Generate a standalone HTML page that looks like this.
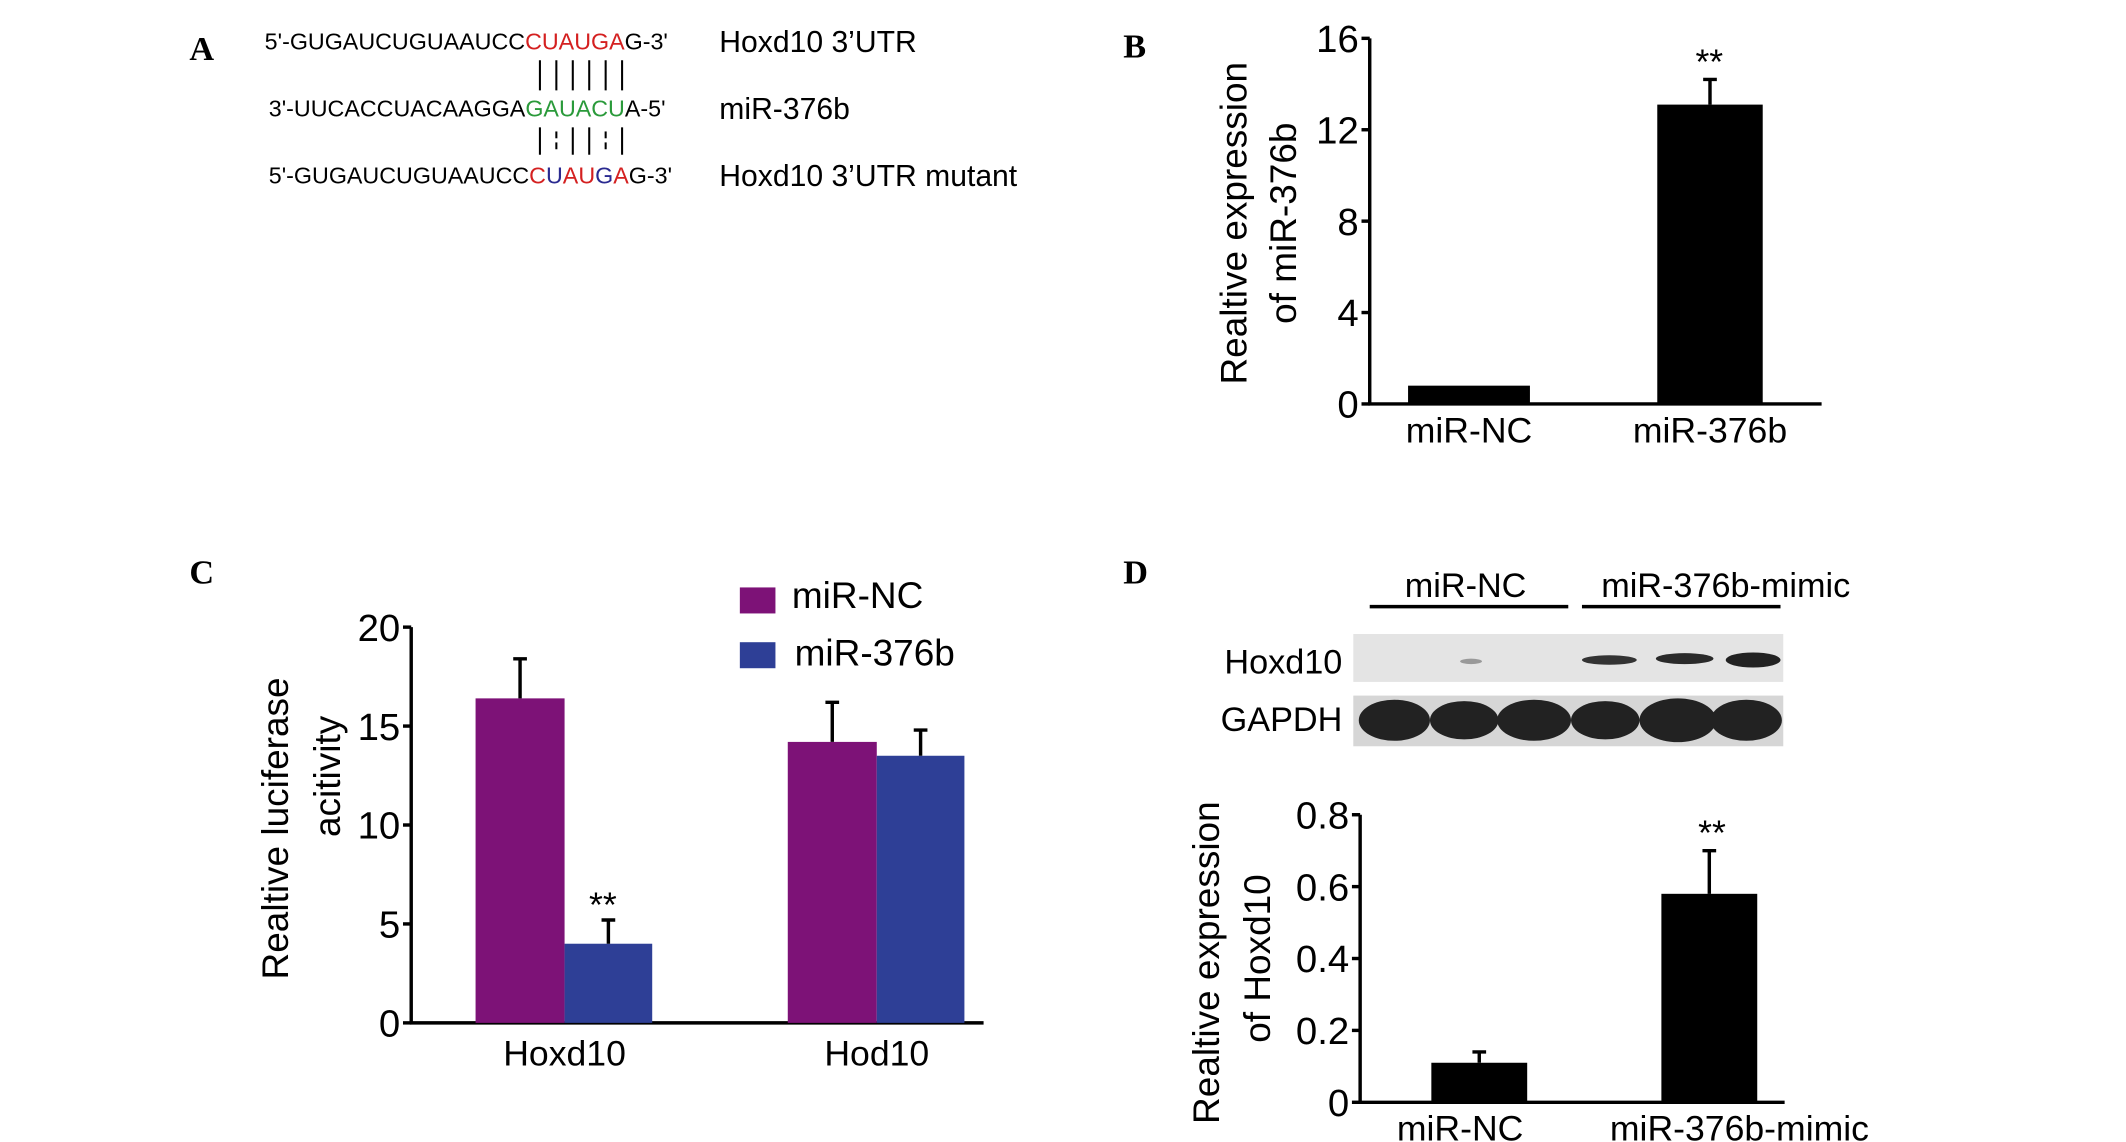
<!DOCTYPE html>
<html><head><meta charset="utf-8"><style>
html,body{margin:0;padding:0;background:#fff;}
svg{display:block;font-family:"Liberation Sans",Arial,sans-serif;}
.pl{font-family:"Liberation Serif",serif;font-weight:bold;font-size:25px;}
</style></head><body>
<svg id="fig" width="2126" height="1142" viewBox="0 0 1552 834" xmlns="http://www.w3.org/2000/svg">
<g>
 <text class="pl" x="138" y="44">A</text>
 <text x="193" y="36" font-size="17">5'-GUGAUCUGUAAUCC<tspan fill="#d42020">CUAUGA</tspan>G-3'</text>
 <text x="196" y="85" font-size="17">3'-UUCACCUACAAGGA<tspan fill="#2a9a3a">GAUACU</tspan>A-5'</text>
 <text x="196" y="134" font-size="17">5'-GUGAUCUGUAAUCC<tspan fill="#d42020">C</tspan><tspan fill="#2a2a90">U</tspan><tspan fill="#d42020">AU</tspan><tspan fill="#2a2a90">G</tspan><tspan fill="#d42020">A</tspan>G-3'</text>
 <g stroke="#000" stroke-width="1.5">
  <line x1="394" y1="44" x2="394" y2="66"/><line x1="406" y1="44" x2="406" y2="66"/><line x1="418" y1="44" x2="418" y2="66"/><line x1="430" y1="44" x2="430" y2="66"/><line x1="442" y1="44" x2="442" y2="66"/><line x1="454" y1="44" x2="454" y2="66"/>
  <line x1="394" y1="93" x2="394" y2="113"/><line x1="406" y1="96" x2="406" y2="101"/><line x1="406" y1="104" x2="406" y2="109"/><line x1="418" y1="93" x2="418" y2="113"/><line x1="430" y1="93" x2="430" y2="113"/><line x1="442" y1="96" x2="442" y2="101"/><line x1="442" y1="104" x2="442" y2="109"/><line x1="454" y1="93" x2="454" y2="113"/>
 </g>
 <text x="525" y="38" font-size="22">Hoxd10 3’UTR</text>
 <text x="525" y="87" font-size="22">miR-376b</text>
 <text x="525" y="136" font-size="22">Hoxd10 3’UTR mutant</text>
</g>
<text class="pl" x="820" y="42">B</text>
<text class="pl" x="138" y="426">C</text>
<text class="pl" x="820" y="426">D</text>
<g id="chartB"></g>
<g id="chartC"></g>
<g id="chartD"></g>
<g>
 <text x="1070" y="436" font-size="25" text-anchor="middle">miR-NC</text>
 <text x="1260" y="436" font-size="25" text-anchor="middle">miR-376b-mimic</text>
 <line x1="1000" y1="443" x2="1145" y2="443" stroke="#000" stroke-width="2.5"/>
 <line x1="1155" y1="443" x2="1300" y2="443" stroke="#000" stroke-width="2.5"/>
 <text x="980" y="492" font-size="25" text-anchor="end">Hoxd10</text>
 <text x="980" y="534" font-size="25" text-anchor="end">GAPDH</text>
 <rect x="988" y="463" width="314" height="35" fill="#e4e4e4"/>
 <ellipse cx="1074" cy="483" rx="8" ry="2" fill="#999"/>
 <ellipse cx="1175" cy="482" rx="20" ry="3.5" fill="#333"/>
 <ellipse cx="1230" cy="481" rx="21" ry="4" fill="#2a2a2a"/>
 <ellipse cx="1280" cy="482" rx="20" ry="5.5" fill="#222"/>
 <rect x="988" y="508" width="314" height="37" fill="#d6d6d6"/>
 <g fill="#222">
  <ellipse cx="1018" cy="526" rx="26" ry="15"/><ellipse cx="1069" cy="526" rx="25" ry="14"/><ellipse cx="1120" cy="526" rx="27" ry="15"/>
  <ellipse cx="1172" cy="526" rx="25" ry="14"/><ellipse cx="1225" cy="526" rx="28" ry="16"/><ellipse cx="1275" cy="526" rx="26" ry="15"/>
 </g>
</g>
</svg>
<script>
const NS="http://www.w3.org/2000/svg";
// Panel B data
const bCategories=["miR-NC","miR-376b"];
const bValues=[0.8,13.1];
const bErrors=[0,1.1];
const bTicks=[0,4,8,12,16];
// Panel C data
const cCategories=["Hoxd10","Hod10"];
const cSeries=["miR-NC","miR-376b"];
const cNC=[16.4,14.2];
const cMir=[4.0,13.5];
const cNCErr=[2.0,2.0];
const cMirErr=[1.2,1.3];
const cTicks=[0,5,10,15,20];
// Panel D data
const dCategories=["miR-NC","miR-376b-mimic"];
const dValues=[0.11,0.58];
const dErrors=[0.03,0.12];
const dTicks=["0","0.2","0.4","0.6","0.8"];

function el(p,t,a){const e=document.createElementNS(NS,t);for(const k in a)e.setAttribute(k,a[k]);p.appendChild(e);return e;}
function axes(g,ax,y0,y1,xEnd,ticks,vmax,fmt){
  const ys=v=>y0-(v/vmax)*(y0-y1);
  const ya=el(g,"line",{x1:ax,y1:y1,x2:ax,y2:y0+1,stroke:"#000","stroke-width":2.5});
  
  
  const xa=el(g,"line",{x1:ax-1,y1:y0,x2:xEnd,y2:y0,stroke:"#000","stroke-width":2.5});
  
  
  ticks.forEach(t=>{const v=parseFloat(t);const y=ys(v);
    el(g,"line",{x1:ax-6,y1:y,x2:ax,y2:y,stroke:"#000","stroke-width":2.5});
    const tx=el(g,"text",{x:ax-8,y:y+10,"font-size":28,"text-anchor":"end"});tx.textContent=fmt?fmt(t):t;
    
    
  });
  return ys;
}
function bar(g,x,w,v,e,ys,fill,name){
  const r=el(g,"rect",{x:x,y:ys(v),width:w,height:ys(0)-ys(v),fill:fill});
  
  
  if(e>0){const cx=x+w/2;
    const eb=el(g,"path",{d:`M${cx},${ys(v)}V${ys(v+e)}M${cx-5},${ys(v+e)}H${cx+5}`,stroke:"#000","stroke-width":2.5,fill:"none"});
    
    }
}
function txt(g,x,y,s,fs,name,rot){
  const t=el(g,"text",{x:x,y:y,"font-size":fs,"text-anchor":"middle"});t.textContent=s;
  if(rot)t.setAttribute("transform",`rotate(-90 ${x} ${y})`);
  
  
  return t;
}
// B
(function(){
  const g=document.getElementById("chartB");
  const ys=axes(g,1000,295,28,1330,bTicks,16);
  const xs=[1028,1210],w=[89,77];
  bCategories.forEach((c,i)=>{bar(g,xs[i],w[i],bValues[i],bErrors[i],ys,"#000","bar-"+c.toLowerCase());
    txt(g,xs[i]+w[i]/2,323,c,26,"x-label-"+c.toLowerCase());});
  txt(g,1248,ys(bValues[1]+bErrors[1])-4,"**",26,"significance-marker");
  txt(g,910,163,"Realtive expression",27,"y-axis-title",true);
  txt(g,946,163,"of miR-376b",27,"y-axis-title-line2",true);
})();
// C
(function(){
  const g=document.getElementById("chartC");
  const ys=axes(g,300,747,458,718,cTicks,20);
  const gx=[347,575],w=65,cols=["#7d1277","#2e3f96"];
  cCategories.forEach((c,i)=>{
    bar(g,gx[i],w,cNC[i],cNCErr[i],ys,cols[0],"bar-nc-"+c.toLowerCase());
    bar(g,gx[i]+w,w-1,cMir[i],cMirErr[i],ys,cols[1],"bar-mir376b-"+c.toLowerCase());
    txt(g,gx[i]+w,778,c,26,"x-label-"+c.toLowerCase());
  });
  txt(g,440,ys(cMir[0]+cMirErr[0])-2,"**",26,"significance-marker");
  cSeries.forEach((s,i)=>{
    const r=el(g,"rect",{x:540,y:429+i*40,width:26,height:19,fill:cols[i]});
    
    
    const t=el(g,"text",{x:578+i*2,y:444+i*42,"font-size":27});t.textContent=s;
    
    
  });
  txt(g,210,605,"Realtive luciferase",27,"y-axis-title",true);
  txt(g,248,567,"acitivity",27,"y-axis-title-line2",true);
})();
// D
(function(){
  const g=document.getElementById("chartD");
  const ys=axes(g,993,805,595,1303,dTicks,0.8);
  const xs=[1045,1213],w=70;
  dCategories.forEach((c,i)=>{bar(g,xs[i],w,dValues[i],dErrors[i],ys,"#000","bar-"+c.toLowerCase());
    txt(g,[1066,1270][i],833,c,26,"x-label-"+c.toLowerCase());});
  txt(g,1250,ys(dValues[1]+dErrors[1])-4,"**",26,"significance-marker");
  txt(g,890,703,"Realtive expression",27,"y-axis-title",true);
  txt(g,927,700,"of Hoxd10",27,"y-axis-title-line2",true);
})();
</script>
</body></html>
